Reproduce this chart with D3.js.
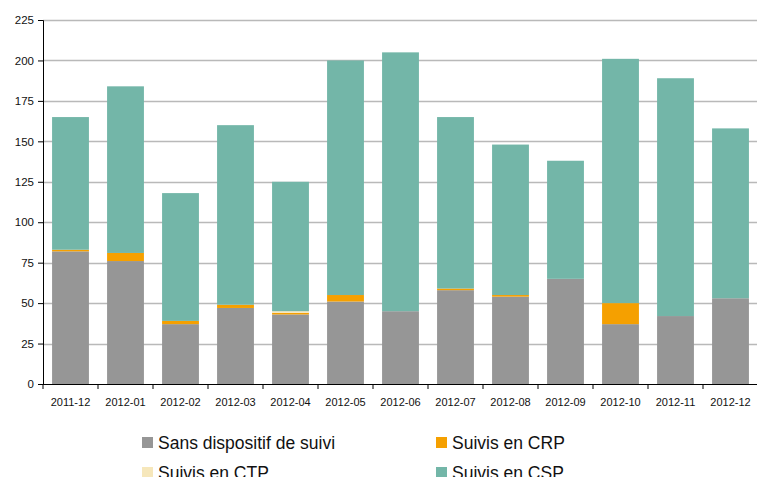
<!DOCTYPE html>
<html>
<head>
<meta charset="utf-8">
<script src="https://cdn.jsdelivr.net/npm/d3@7"></script>
<style>
  body { margin: 0; background: #fff; }
  svg { display: block; font-family: "Liberation Sans", Arial, sans-serif; }
</style>
</head>
<body>
<script>
var months = ["2011-12", "2012-01", "2012-02", "2012-03", "2012-04", "2012-05", "2012-06",
              "2012-07", "2012-08", "2012-09", "2012-10", "2012-11", "2012-12"];
var sansSuivi = [82, 76, 37, 47, 43, 51, 45, 58, 54, 65, 37, 42, 53];
var suivisCRP = [1, 5, 2, 2, 1, 4, 0, 1, 1, 0, 13, 0, 0];
var suivisCTP = [0, 0, 0, 0, 1, 0, 0, 0, 0, 0, 0, 0, 0];
var suivisCSP = [82, 103, 79, 111, 80, 145, 160, 106, 93, 73, 151, 147, 105];
var yTicks = [0, 25, 50, 75, 100, 125, 150, 175, 200, 225];

var seriesNames = ["Sans dispositif de suivi", "Suivis en CRP", "Suivis en CTP", "Suivis en CSP"];
var colors = ["#969696", "#f5a000", "#f6e7bb", "#73b6a8"];

var width = 757, height = 477;
var margin = {top: 20, right: -1, bottom: 93, left: 43};
var innerW = width - margin.left - margin.right;
var innerH = height - margin.top - margin.bottom;

var rows = months.map(function(m, i) {
  return {month: m, s0: sansSuivi[i], s1: suivisCRP[i], s2: suivisCTP[i], s3: suivisCSP[i]};
});
var stack = d3.stack().keys(["s0", "s1", "s2", "s3"])(rows);

var x = d3.scaleBand().domain(months).range([0, innerW]).paddingInner(0.33).paddingOuter(0.165);
var y = d3.scaleLinear().domain([0, 225]).range([innerH, 0]);

var svg = d3.select("body").append("svg")
  .attr("width", width)
  .attr("height", height);

var main = svg.append("g")
  .attr("transform", "translate(" + margin.left + "," + margin.top + ")");

// gridlines
main.append("g").selectAll("line").data(yTicks.slice(1)).enter()
  .append("line")
  .attr("x1", 0).attr("x2", innerW)
  .attr("y1", function(d) { return Math.round(y(d)) + 0.5; })
  .attr("y2", function(d) { return Math.round(y(d)) + 0.5; })
  .attr("stroke", "#b9b9b9")
  .attr("stroke-width", 1.5);

// bars
main.append("g").selectAll("g").data(stack).enter()
  .append("g")
  .attr("fill", function(d, i) { return colors[i]; })
  .selectAll("rect").data(function(d) { return d; }).enter()
  .append("rect")
  .attr("x", function(d) { return x(d.data.month); })
  .attr("width", x.bandwidth())
  .attr("y", function(d) { return y(d[1]); })
  .attr("height", function(d) { return y(d[0]) - y(d[1]); });

// y axis
var yAxis = d3.axisLeft(y).tickValues(yTicks).tickSize(5).tickPadding(4);
var gy = main.append("g").call(yAxis);
gy.selectAll("text").attr("font-size", 11.5).attr("fill", "#111").attr("font-family", null);
gy.select(".domain").attr("stroke", "#000");

// x axis: ticks on the band edges
var gx = main.append("g").attr("transform", "translate(0," + innerH + ")");
gx.append("line").attr("x1", 0).attr("x2", innerW).attr("y1", 0.5).attr("y2", 0.5).attr("stroke", "#000");
var step = x.step();
gx.selectAll(".edge").data(months).enter()
  .append("line")
  .attr("x1", function(d) { return x(d) - x.paddingOuter() * step; })
  .attr("x2", function(d) { return x(d) - x.paddingOuter() * step; })
  .attr("y1", 0).attr("y2", 5)
  .attr("stroke", "#000");
gx.selectAll("text").data(months).enter()
  .append("text")
  .attr("x", function(d) { return x(d) + x.bandwidth() / 2; })
  .attr("y", 22)
  .attr("text-anchor", "middle")
  .attr("font-size", 11)
  .attr("fill", "#111")
  .text(function(d) { return d; });

// legend (second row is clipped by the bottom edge, as in the original)
var legend = svg.append("g");
var legendPos = [[142, 437], [436, 437], [142, 467], [436, 467]];
seriesNames.forEach(function(name, i) {
  var g = legend.append("g").attr("transform", "translate(" + legendPos[i][0] + "," + legendPos[i][1] + ")");
  g.append("rect").attr("x", 0).attr("y", 0).attr("width", 11).attr("height", 11).attr("fill", colors[i]);
  g.append("text").attr("x", 16).attr("y", 12).attr("font-size", 17.5).attr("fill", "#111").text(name);
});
</script>
</body>
</html>
